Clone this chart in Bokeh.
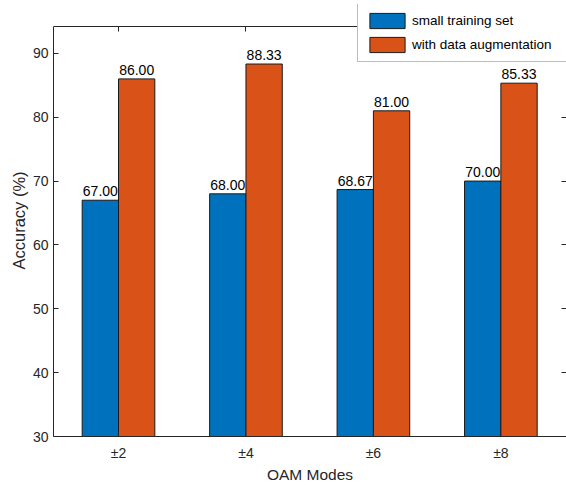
from bokeh.plotting import figure
from bokeh.models import ColumnDataSource, Range1d, FixedTicker, LinearAxis, Legend, LegendItem, Title
from bokeh.core.properties import value
from bokeh.transform import dodge
from bokeh.embed import file_html
from bokeh.resources import INLINE

modes = ["±2", "±4", "±6", "±8"]
small_training = [67.00, 68.00, 68.67, 70.00]
augmented = [86.00, 88.33, 81.00, 85.33]
series_names = ["small training set", "with data augmentation"]
y_ticks = [30, 40, 50, 60, 70, 80, 90]
y_min, y_max = 30, 94.2

FONT = "Liberation Sans"
AX = "#262626"
BLUE = "#0072BD"
ORANGE = "#D95319"

pos = list(range(1, len(modes) + 1))
src = ColumnDataSource(dict(
    x=pos,
    small=small_training,
    aug=augmented,
    small_lbl=[f"{v:.2f}" for v in small_training],
    aug_lbl=[f"{v:.2f}" for v in augmented],
))

# frame reaches above the axes box so the legend can stick out over the top edge
p = figure(width=566, height=485, x_range=Range1d(0.49, 4.515), y_range=Range1d(y_min, 97.65),
           output_backend="svg", toolbar_location=None,
           min_border_left=53, min_border_top=4, min_border_right=0, min_border_bottom=49)
p.xgrid.visible = False
p.ygrid.visible = False
p.outline_line_color = None

bw = 0.285
off = bw / 2
r1 = p.vbar(x=dodge("x", -off), top="small", bottom=0, width=bw, source=src,
            fill_color=BLUE, line_color="#1a1a1a", line_width=1)
r2 = p.vbar(x=dodge("x", off), top="aug", bottom=0, width=bw, source=src,
            fill_color=ORANGE, line_color="#1a1a1a", line_width=1)

for col, lbl, sgn in (("small", "small_lbl", -1), ("aug", "aug_lbl", 1)):
    p.text(x=dodge("x", sgn * off), y=col, text=lbl, source=src,
           text_align="center", text_baseline="alphabetic", y_offset=-9,
           text_font=value(FONT), text_font_size="14px", text_color="#000000")

# axes
xa = p.xaxis[0]
xa.ticker = FixedTicker(ticks=pos)
xa.major_label_overrides = {k: v for k, v in zip(pos, modes)}
ya = p.yaxis[0]
ya.ticker = FixedTicker(ticks=y_ticks)
ya.bounds = (y_min, y_max)
for ax in (xa, ya):
    ax.major_tick_in = 5
    ax.major_tick_out = 0
    ax.minor_tick_line_color = None
    ax.axis_line_color = AX
    ax.major_tick_line_color = AX
    ax.major_label_text_font = FONT
    ax.major_label_text_font_size = "14px"
    ax.major_label_text_color = AX
    ax.axis_label_text_font = FONT
    ax.axis_label_text_font_size = "15.5px"
    ax.axis_label_text_font_style = "normal"
    ax.axis_label_text_color = AX
xa.axis_label = "OAM Modes"
xa.major_label_standoff = 8
xa.axis_label_standoff = 2
ya.major_label_standoff = 5

# y label as a side title so it can be centred on the axes box, not on the taller frame
ylab = Title(text="Accuracy (%)", align="center", offset=-11, standoff=3,
             text_font=FONT, text_font_size="16.5px", text_font_style="normal",
             text_color=AX)
p.add_layout(ylab, "left")

top_ax = LinearAxis(ticker=FixedTicker(ticks=pos), fixed_location=y_max,
                    major_tick_in=5, major_tick_out=0,
                    minor_tick_line_color=None, major_label_text_font_size="0px",
                    major_label_standoff=0, axis_line_color=AX, major_tick_line_color=AX)
right_ax = LinearAxis(ticker=FixedTicker(ticks=y_ticks), bounds=(y_min, y_max),
                      major_tick_in=5, major_tick_out=0,
                      minor_tick_line_color=None, major_label_text_font_size="0px",
                      major_label_standoff=0, axis_line_color=AX, major_tick_line_color=AX)
p.add_layout(top_ax, "above")
p.add_layout(right_ax, "right")

legend = Legend(items=[LegendItem(label=series_names[0], renderers=[r1]),
                       LegendItem(label=series_names[1], renderers=[r2])],
                location=(304, 374))
legend.border_line_color = "#7a7a7a"
legend.border_line_width = 1
legend.background_fill_color = "white"
legend.background_fill_alpha = 1
legend.label_text_font = FONT
legend.label_text_font_size = "13.5px"
legend.label_text_color = "#000000"
legend.glyph_width = 44
legend.glyph_height = 19
legend.label_height = 19
legend.label_width = 200
legend.spacing = 5
legend.padding = 7
legend.margin = 0
legend.label_standoff = 3
p.add_layout(legend)

open("out.html", "w").write(file_html(p, INLINE))
